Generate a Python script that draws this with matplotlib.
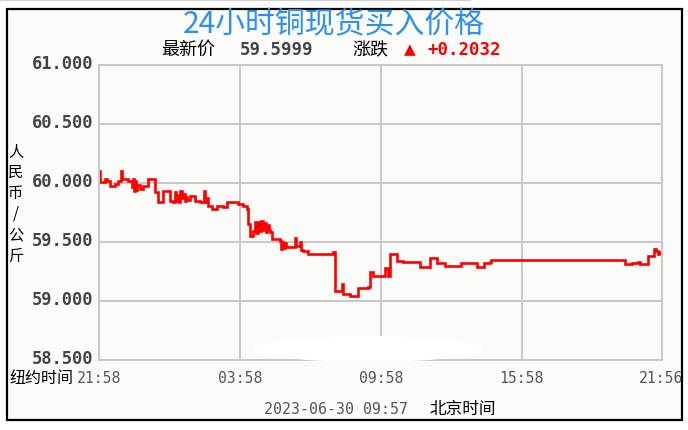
import matplotlib
matplotlib.use("Agg")
import matplotlib.pyplot as plt
from matplotlib.patches import Rectangle, Ellipse
import numpy as np

# ---- data ----
minutes = [0, 3, 15, 20, 28, 41, 49, 56, 59, 74, 84, 88, 90, 92, 95, 98, 105, 112, 125, 138,
           143, 151, 161, 163, 176, 181, 189, 194, 197, 200, 204, 207, 211, 215, 219, 222, 225,
           232, 245, 258, 268, 271, 274, 278, 289, 301, 317, 327, 342, 355, 368, 378, 381, 386,
           393, 398, 402, 406, 410, 414, 418, 422, 426, 430, 434, 437, 442, 462, 465, 467, 470,
           474, 478, 488, 500, 503, 506, 513, 516, 521, 534, 564, 598, 603, 618, 621, 623, 641,
           659, 661, 687, 692, 700, 725, 730, 738, 743, 756, 761, 776, 820, 840, 845, 858, 863,
           884, 922, 925, 960, 965, 981, 983, 999, 1001, 1338, 1343, 1361, 1377, 1382, 1400,
           1402, 1415, 1418, 1423, 1428, 1430, 1438]
prices = [60.10, 60.01, 60.03, 60.02, 59.975, 59.99, 60.02, 60.10, 60.03, 60.02, 59.965, 60.03,
          59.93, 60.02, 59.94, 59.98, 59.95, 59.975, 60.03, 60.03, 59.925, 59.84, 59.84, 59.93,
          59.93, 59.845, 59.84, 59.92, 59.85, 59.90, 59.84, 59.93, 59.87, 59.91, 59.85, 59.88,
          59.86, 59.89, 59.85, 59.84, 59.93, 59.84, 59.87, 59.805, 59.78, 59.805, 59.80, 59.84,
          59.84, 59.82, 59.805, 59.78, 59.65, 59.55, 59.59, 59.67, 59.58, 59.67, 59.59, 59.68,
          59.60, 59.66, 59.585, 59.64, 59.60, 59.585, 59.525, 59.51, 59.44, 59.50, 59.45, 59.49,
          59.46, 59.46, 59.53, 59.47, 59.465, 59.50, 59.43, 59.425, 59.40, 59.40, 59.415, 59.085,
          59.085, 59.14, 59.06, 59.04, 59.04, 59.11, 59.12, 59.245, 59.21, 59.21, 59.28, 59.21,
          59.40, 59.40, 59.34, 59.33, 59.29, 59.29, 59.365, 59.365, 59.32, 59.30, 59.30, 59.32,
          59.32, 59.29, 59.29, 59.32, 59.33, 59.35, 59.35, 59.315, 59.32, 59.33, 59.315, 59.315,
          59.38, 59.38, 59.44, 59.42, 59.40, 59.415, 59.415]

y_ticks = [58.5, 59.0, 59.5, 60.0, 60.5, 61.0]
y_tick_labels = ["58.500", "59.000", "59.500", "60.000", "60.500", "61.000"]
x_ticks = [0, 360, 720, 1080, 1438]
x_tick_labels = ["21:58", "03:58", "09:58", "15:58", "21:56"]

title = "24小时铜现货买入价格"
latest_label = "最新价"
latest_value = "59.5999"
change_label = "涨跌"
change_value = "+0.2032"
ylabel = "人民币/公斤"
ny_label = "纽约时间"
timestamp = "2023-06-30 09:57"
bj_label = "北京时间"

W, H = 688, 431
CJK = ["Noto Sans CJK SC", "DejaVu Sans"]
MONO = ["DejaVu Sans Mono", "Noto Sans CJK SC"]

fig = plt.figure(figsize=(W / 100, H / 100), dpi=100)
fig.patch.set_facecolor("white")

def fx(x):
    return x / W

def fy(y):
    return 1 - y / H

# outer box
box = Rectangle((fx(7), fy(421)), fx(682) - fx(7), fy(10) - fy(421), transform=fig.transFigure,
                facecolor="#fbfcfa", edgecolor="black", linewidth=1.6, zorder=-5)
fig.patches.append(box)
fig.add_artist(plt.Line2D([0, fx(470)], [fy(0.5), fy(0.5)], transform=fig.transFigure,
                          color="#cfcfcf", linewidth=1.5, zorder=-4))

ax = fig.add_axes([fx(99), fy(361), fx(662) - fx(99), fy(66) - fy(361)])
ax.set_zorder(1)
ax.set_facecolor("#fbfcfa")
ax.set_xlim(0, 1438)
ax.set_ylim(58.5, 61.0)
ax.set_xticks(x_ticks)
ax.set_yticks(y_ticks)
ax.set_xticklabels([])
ax.set_yticklabels([])
ax.tick_params(length=0)
ax.grid(True, color="#c8c8c8", linewidth=1.4)
for s in ax.spines.values():
    s.set_color("#c8c8c8")
    s.set_linewidth(1.4)
ax.set_axisbelow(True)

ax.plot(minutes, prices, drawstyle="steps-post", color="#ff0000", linewidth=1.9,
        solid_joinstyle="miter")

# y tick labels
for v, lab in zip(y_ticks, y_tick_labels):
    ypx = 361 - (v - 58.5) / 2.5 * 295
    fig.text(fx(93), fy(ypx - 2), lab, ha="right", va="center", family=MONO,
             fontsize=12.3, fontweight="bold", color="#444444")

# x tick labels
for v, lab in zip(x_ticks, x_tick_labels):
    xpx = 99 + v / 1438 * 563
    if v == x_ticks[-1]:
        xpx -= 1
    fig.text(fx(xpx), fy(379), lab, ha="center", va="center", family=MONO,
             fontsize=10.6, color="#555555")

fig.text(fx(9), fy(379), ny_label, ha="left", va="center", family=CJK, fontsize=11.5, color="black")

# title and info line
fig.text(fx(334), fy(25), title, ha="center", va="center", family=CJK, fontsize=21.5,
         color="#2d8ff0")
fig.text(fx(161), fy(50), latest_label, ha="left", va="center", family=CJK, fontsize=13, color="black")
fig.text(fx(240), fy(50), latest_value, ha="left", va="center", family=MONO, fontsize=12.5,
         fontweight="bold", color="#444444")
fig.text(fx(352), fy(50), change_label, ha="left", va="center", family=CJK, fontsize=13, color="black")
fig.text(fx(404), fy(50), "▲", ha="left", va="center", family=["DejaVu Sans"], fontsize=11, color="#ff0000")
fig.text(fx(427), fy(50), change_value, ha="left", va="center", family=MONO, fontsize=12.5,
         fontweight="bold", color="#ff0000")

# vertical y label
fig.text(fx(16), fy(204), "\n".join(list(ylabel)), ha="center", va="center", family=CJK,
         fontsize=11, color="black", linespacing=1.3)

# bottom timestamp
fig.text(fx(264), fy(410), timestamp, ha="left", va="center", family=MONO, fontsize=10.7, color="#555555")
fig.text(fx(429), fy(410), bj_label, ha="left", va="center", family=CJK, fontsize=12, color="black")

# white smudge near bottom of plot
smudge = Ellipse((fx(368), fy(350)), fx(230), fx(26) * W / H, transform=fig.transFigure,
                 facecolor="white", edgecolor="none", zorder=5)
fig.patches.append(smudge)

fig.savefig("out.png", dpi=100)
